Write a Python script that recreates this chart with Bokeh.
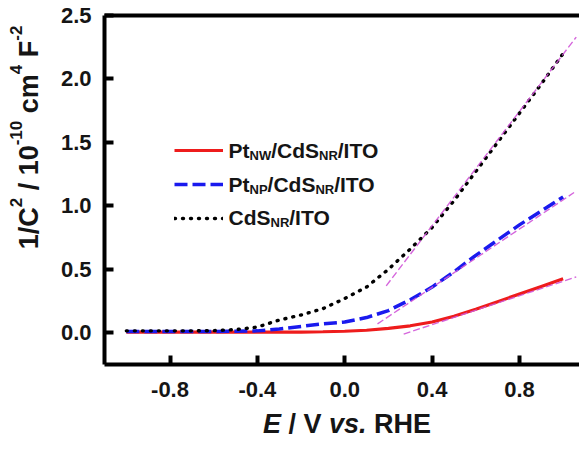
import numpy as np
from bokeh.plotting import figure
from bokeh.layouts import row, column
from bokeh.models import Label, Legend, LegendItem, FixedTicker, Range1d, LinearAxis
from bokeh.embed import file_html
from bokeh.resources import INLINE

# ---------------- data ----------------
E = [-1.0, -0.9, -0.8, -0.7, -0.6, -0.5, -0.4, -0.3, -0.2, -0.1,
     0.0, 0.1, 0.2, 0.3, 0.4, 0.5, 0.6, 0.7, 0.8, 0.9, 1.0]
cds_ito = [0.015, 0.015, 0.015, 0.015, 0.017, 0.025, 0.045, 0.10, 0.14, 0.19,
           0.27, 0.36, 0.50, 0.66, 0.83, 1.04, 1.27, 1.50, 1.73, 1.96, 2.20]
pt_np = [0.01, 0.01, 0.01, 0.01, 0.01, 0.012, 0.015, 0.03, 0.05, 0.07,
         0.085, 0.12, 0.175, 0.26, 0.36, 0.48, 0.61, 0.73, 0.85, 0.96, 1.07]
pt_nw = [0.005, 0.005, 0.005, 0.005, 0.005, 0.005, 0.005, 0.005, 0.005, 0.008,
         0.012, 0.02, 0.035, 0.055, 0.085, 0.13, 0.185, 0.245, 0.305, 0.365, 0.425]

fit_cds_x = [0.19, 1.06]
fit_cds_y = [0.37, 2.33]
fit_np_x = [0.15, 1.05]
fit_np_y = [0.07, 1.105]
fit_nw_x = [0.27, 1.06]
fit_nw_y = [-0.01, 0.44]

x_ticks = [-0.8, -0.4, 0.0, 0.4, 0.8]
x_tick_labels = ["-0.8", "-0.4", "0.0", "0.4", "0.8"]
y_ticks = [0.0, 0.5, 1.0, 1.5, 2.0, 2.5]
y_tick_labels = ["0.0", "0.5", "1.0", "1.5", "2.0", "2.5"]

FONT = "Liberation Sans"
TXT = "#151515"
YT_W = 50  # width of the strip that holds the y-axis title

# ---------------- main plot ----------------
p = figure(width=579 - YT_W, height=410, output_backend="svg", toolbar_location=None,
           x_range=Range1d(-1.10, 1.075), y_range=Range1d(-0.25, 2.5),
           min_border_left=104 - YT_W, min_border_right=0, min_border_top=15, min_border_bottom=46)
p.outline_line_color = None
p.xgrid.visible = False
p.ygrid.visible = False
p.background_fill_color = "white"
p.border_fill_color = "white"

for ax, ticks, labels in ((p.xaxis[0], x_ticks, x_tick_labels), (p.yaxis[0], y_ticks, y_tick_labels)):
    ax.ticker = FixedTicker(ticks=ticks)
    ax.major_label_overrides = dict(zip(ticks, labels))
    ax.axis_line_width = 4
    ax.axis_line_color = "black"
    ax.major_tick_line_width = 4
    ax.major_tick_line_color = "black"
    ax.major_tick_in = 9
    ax.major_tick_out = 0
    ax.minor_tick_line_color = None
    ax.major_label_text_font = FONT
    ax.major_label_text_font_style = "bold"
    ax.major_label_text_font_size = "22px"
    ax.major_label_text_color = TXT
p.xaxis.major_label_standoff = 17
p.yaxis.major_label_standoff = 13

top = LinearAxis(ticker=FixedTicker(ticks=[]), axis_line_width=4, axis_line_color="black",
                 major_tick_line_color=None, minor_tick_line_color=None,
                 major_label_text_font_size="1px", major_label_text_alpha=0,
                 major_label_standoff=0)
p.add_layout(top, "above")

r_nw = p.line(E, pt_nw, line_color="#ee1c1c", line_width=3.2)
r_np = p.line(E, pt_np, line_color="#1a1aee", line_width=3.5, line_dash="13 5")
r_cds = p.line(E, cds_ito, line_color="black", line_width=3.4, line_dash="1 7", line_cap="round")

for fx, fy in ((fit_cds_x, fit_cds_y), (fit_np_x, fit_np_y), (fit_nw_x, fit_nw_y)):
    p.line(fx, fy, line_color="#d055d8", line_width=1.4, line_dash="7 3", line_alpha=0.9)

legend = Legend(items=[LegendItem(label=" ", renderers=[r_nw]),
                       LegendItem(label=" ", renderers=[r_np]),
                       LegendItem(label=" ", renderers=[r_cds])],
                location=(70, 136), glyph_width=49, glyph_height=20, label_height=20,
                label_width=1, label_text_font_size="1px", spacing=14, padding=0, margin=0,
                border_line_color=None, background_fill_alpha=0)
p.add_layout(legend)


def blank(w, h):
    f = figure(width=w, height=h, output_backend="svg", toolbar_location=None,
               x_axis_location=None, y_axis_location=None, min_border=0,
               x_range=Range1d(0, 1), y_range=Range1d(0, 1))
    f.outline_line_color = None
    f.xgrid.visible = False
    f.ygrid.visible = False
    return f


ytf = blank(YT_W, 410)
xtf = blank(579, 40)

# ---------------- rich text helpers ----------------
W = {" ": .278, "/": .278, ".": .278, "-": .333, "0": .556, "1": .556, "2": .556, "4": .556,
     "C": .722, "d": .611, "S": .667, "P": .667, "t": .333, "N": .722, "W": .944, "R": .722,
     "I": .278, "T": .611, "O": .778, "E": .667, "V": .667, "v": .556, "s": .556, "H": .722,
     "c": .556, "m": .889, "F": .611}
MID = 0.3465  # distance baseline -> middle of the em box, in em


def tw(s, size):
    return sum(W.get(c, .556) for c in s) * size


def rich(fig, segs, x0, y0, vertical=False, center=False):
    """x0, y0: start (or centre) of the main baseline, in frame screen units."""
    total = sum(tw(t, s) for t, s, _, _ in segs)
    pos = -total / 2 if center else 0.0
    for text, size, shift, italic in segs:
        stripped = text.lstrip(" ")
        lead = tw(text[:len(text) - len(stripped)], size)
        d = pos + lead
        up = shift + MID * size
        if vertical:
            lx, ly, ang = x0 - up, y0 + d, np.pi / 2
        else:
            lx, ly, ang = x0 + d, y0 + up, 0
        fig.add_layout(Label(x=lx, y=ly, x_units="screen", y_units="screen", text=stripped.rstrip(" "),
                             angle=ang, text_font=FONT,
                             text_font_style="bold italic" if italic else "bold",
                             text_font_size=f"{size}px", text_baseline="middle",
                             text_align="left", text_color=TXT))
        pos += tw(text, size)


# legend texts (main frame: left at x=104, bottom at y=364 in page pixels)
L, S = 21, 13
rich(p, [("Pt", L, 0, False), ("NW", S, -3, False), ("/CdS", L, 0, False), ("NR", S, -3, False), ("/ITO", L, 0, False)], 124, 364 - 157)
rich(p, [("Pt", L, 0, False), ("NP", S, -3, False), ("/CdS", L, 0, False), ("NR", S, -3, False), ("/ITO", L, 0, False)], 124, 364 - 191)
rich(p, [("CdS", L, 0, False), ("NR", S, -3, False), ("/ITO", L, 0, False)], 124, 364 - 224)

# x axis title (strip at page y 410..450)
T = 27
rich(xtf, [("E", T, 0, True), (" / V ", T, 0, False), ("vs.", T, 0, True), (" RHE", T, 0, False)],
     346.5, 450 - 433, center=True)

# y axis title (strip at page x 0..YT_W, y 0..410)
U = 17
rich(ytf, [("1/C", T, 0, False), ("2", U, 17, False), (" / 10", T, 0, False), ("-10", U, 17, False),
           (" cm", T, 0, False), ("4", U, 17, False), (" F", T, 0, False), ("-2", U, 17, False)],
     38, 410 - 183, vertical=True, center=True)

layout = column(row(ytf, p), xtf)
open("out.html", "w").write(file_html(layout, INLINE))
